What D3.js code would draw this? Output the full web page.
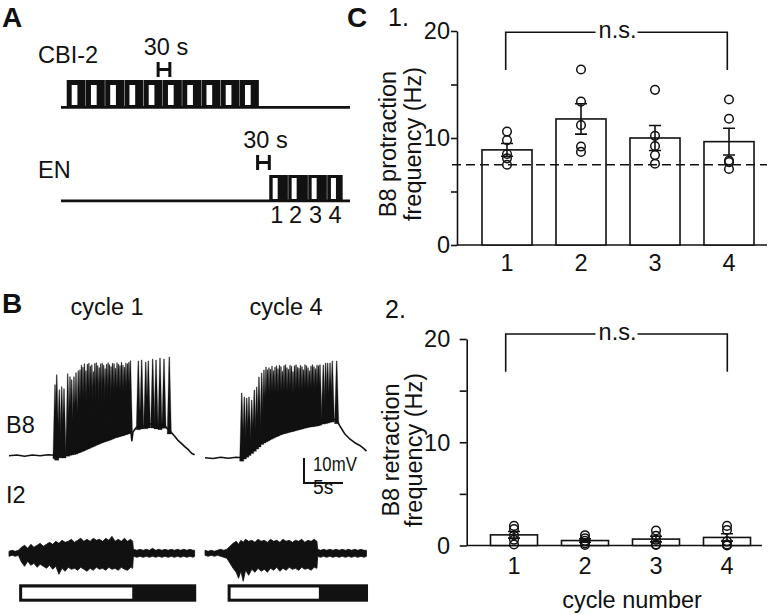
<!DOCTYPE html>
<html><head><meta charset="utf-8">
<script src="https://cdn.jsdelivr.net/npm/d3@7"></script>
<style>
html,body{margin:0;padding:0;background:#fff}
svg{display:block}
text{font-family:"Liberation Sans",Arial,Helvetica,sans-serif;fill:#111}
</style>
</head><body>
<svg id="fig" width="770" height="615"></svg>
<script>
// ---------------- DATA ----------------
// Panel C
const cycles = ["1", "2", "3", "4"];
const protMean = [8.89, 11.78, 10.0, 9.66];
const protSem = [0.6, 1.42, 1.17, 1.25];
const protPoints = [[10.6, 9.8, 8.5, 8.1, 7.5], [16.4, 13.4, 11.2, 9.2, 8.7], [14.5, 10.2, 9.25, 8.4, 7.6], [13.6, 11.8, 7.9, 7.75, 7.1]];
const protBaseline = 7.5;
const retMean = [1.03, 0.48, 0.62, 0.78];
const retSem = [0.32, 0.16, 0.27, 0.36];
const retPoints = [[1.9, 1.6, 1.0, 0.55, 0.1], [1.0, 0.7, 0.45, 0.2, 0.05], [1.45, 0.95, 0.55, 0.1, 0.05], [1.9, 1.5, 0.4, 0.1, 0.0]];
const yTickValues = [0, 5, 10, 15, 20];
const yTickLabels = [0, 10, 20];
const sigLabel = "n.s.";

// Panel A: cycles [start, protraction start, protraction end, end] in s
const cbiCycles = [[14.6, 27.4, 42.0, 62.9], [63.9, 76.7, 91.3, 112.2], [113.2, 126.0, 140.6, 161.5], [162.5, 175.3, 189.9, 210.8], [211.8, 224.6, 239.2, 260.1], [261.1, 273.9, 288.5, 309.4], [310.4, 323.2, 337.8, 358.7], [359.7, 372.5, 387.1, 408.0], [409.0, 421.8, 436.4, 457.3], [458.3, 471.1, 485.7, 506.6]];
const enCycles = [[533.2, 542.0, 554.8, 580.9], [581.9, 590.6, 603.4, 632.1], [633.1, 641.8, 654.6, 680.7], [681.7, 691.2, 704.0, 721.2]];
const enCycleLabels = ["1", "2", "3", "4"];
const timelineDur = 740;
const cbiScaleBarStart = 248.7, enScaleBarStart = 503.4, scaleBarSec = 30;

// Panel B: B8 membrane potential (t s, mV rel. rest)
const b8Env1 = [[0, 0], [1, 0.3], [2, -0.2], [3, 0.3], [4, 0], [5, 0.4], [5.9, 0.2], [6.2, -0.6], [6.5, 0.8], [7.0, 0.4], [7.8, 1.6], [8.5, 2.0], [9.1, 2.8], [10.4, 4.6], [11.7, 6.4], [12.8, 7.6], [13.6, 8.6], [14.5, 9.4], [15.3, 10.2], [15.6, 10.6], [15.75, 6.0], [15.9, 9.6], [16.3, 11.2], [16.8, 12.2], [17.4, 12.0], [18.1, 12.8], [18.7, 12.2], [19.4, 11.8], [19.9, 12.4], [20.3, 10.8], [20.9, 9.0], [21.3, 7.6], [21.7, 6.0], [22.2, 4.6], [22.6, 3.4], [23.0, 2.4], [23.4, 1.0], [23.8, 0.4]];
const b8Spikes1T = [5.90, 6.12, 6.45, 6.76, 7.05, 7.53, 7.82, 8.04, 8.33, 8.59, 8.88, 9.10,
  9.29, 9.48, 9.67, 9.86, 10.05, 10.24, 10.43, 10.62, 10.81, 11.00, 11.19, 11.38, 11.57, 11.76, 11.95, 12.14, 12.33, 12.52, 12.71, 12.90, 13.09, 13.28, 13.47, 13.66, 13.85, 14.04, 14.23, 14.42, 14.61, 14.80, 14.99, 15.18, 15.37, 15.56,
  16.58, 17.01, 17.53, 17.86, 18.42, 18.85, 19.36, 19.87, 20.55];
const b8Spikes1V = [28.4, 32.4, 26.4, 27.6, 26.8, 32.8, 31.6, 30.4, 31.6, 33.2, 34.0, 34.4,
  36.2, 35.4, 36.8, 34.0, 36.6, 37.0, 35.8, 36.4, 33.6, 36.9, 37.2, 36.0, 35.2, 36.8, 37.0, 36.2, 34.8, 36.6, 37.2, 36.4, 35.6, 37.0, 36.8, 35.0, 37.2, 36.6, 36.0, 37.4, 36.2, 35.4, 37.0, 36.8, 37.4, 38.0,
  37.9, 38.3, 37.5, 37.9, 38.7, 38.3, 39.1, 38.7, 39.5];
const b8Env2 = [[0, 0], [1, -0.3], [2, 0.2], [3, -0.2], [4, 0.2], [4.7, 0], [5.1, 1.0], [5.8, 2.6], [6.4, 4.2], [7.3, 6.8], [8.5, 9.0], [9.8, 10.8], [11.5, 12.2], [13.2, 13.6], [14.5, 14.2], [15.1, 14.8], [15.7, 15.2], [16.2, 15.8], [16.9, 15.0], [17.3, 12.6], [17.9, 9.6], [18.6, 7.4], [19.2, 6.0], [19.8, 5.0], [20.3, 3.8], [20.7, 2.6]];
const b8Spikes2T = [4.71, 5.04, 5.35, 5.64, 5.99, 6.32, 6.63, 6.92, 7.27, 7.56, 7.82,
  8.01, 8.20, 8.40, 8.59, 8.78, 8.97, 9.17, 9.36, 9.55, 9.74, 9.94, 10.13, 10.32, 10.51, 10.71, 10.90, 11.09, 11.28, 11.47, 11.67, 11.86, 12.05, 12.24, 12.44, 12.63, 12.82, 13.01, 13.21, 13.40, 13.59, 13.78, 13.97, 14.17, 14.36, 14.55, 14.74,
  15.17, 15.47, 15.73, 16.03, 16.32, 16.88];
const b8Spikes2V = [25.9, 24.3, 23.9, 24.3, 23.1, 27.1, 28.3, 32.3, 33.9, 35.1, 36.3,
  35.2, 36.0, 35.4, 36.6, 34.8, 36.2, 36.8, 35.6, 37.0, 36.4, 34.6, 36.8, 37.2, 36.0, 35.4, 37.0, 36.6, 34.4, 36.8, 37.2, 36.2, 35.8, 37.0, 36.4, 35.2, 37.2, 36.8, 36.0, 34.8, 36.6, 37.2, 36.4, 35.6, 37.0, 36.8, 37.2,
  37.1, 37.9, 37.9, 37.9, 38.7, 38.7];
// I2 EMG envelope [t s, upper amplitude, lower amplitude] (a.u.)
const emg1 = [[0, 2, 3], [0.4, 3, 2], [0.8, 2, 3], [1.2, 3, 2], [1.6, 6, 9], [2.0, 8, 13], [2.4, 5, 8], [2.8, 9, 12], [3.2, 6, 10], [3.6, 8, 14], [4.0, 10, 11], [4.4, 7, 13], [4.8, 9, 15], [5.2, 11, 12], [5.6, 9, 16], [6.0, 12, 13], [6.4, 10, 21], [6.8, 13, 15], [7.2, 11, 18], [7.6, 12, 14], [8.0, 14, 16], [8.4, 11, 15], [8.8, 13, 17], [9.2, 15, 14], [9.6, 12, 16], [10.0, 14, 18], [10.4, 12, 15], [10.8, 15, 17], [11.2, 13, 14], [11.6, 14, 16], [12.0, 12, 15], [12.4, 15, 17], [12.8, 13, 14], [13.2, 17, 16], [13.6, 12, 15], [14.0, 14, 17], [14.4, 12, 14], [14.8, 15, 16], [15.2, 12, 17], [15.6, 14, 14], [15.85, 12, 15], [15.95, 4, 3], [16.4, 3, 4], [16.8, 4, 3], [17.2, 3, 4], [17.6, 4, 3], [18.0, 3, 4], [18.4, 5, 3], [18.8, 3, 4], [19.2, 4, 3], [19.6, 3, 4], [20.0, 4, 3], [20.4, 3, 4], [20.8, 4, 3], [21.2, 3, 4], [21.6, 4, 3], [22.0, 3, 4], [22.4, 4, 3], [22.8, 3, 4], [23.2, 4, 3], [23.6, 3, 4], [23.8, 3, 3]];
const emg2 = [[0, 3, 2], [0.4, 2, 3], [0.8, 3, 2], [1.2, 2, 3], [1.6, 3, 2], [2.0, 4, 3], [2.4, 3, 4], [2.8, 4, 5], [3.2, 7, 10], [3.6, 10, 15], [4.0, 12, 19], [4.3, 9, 25], [4.6, 13, 18], [4.9, 11, 28], [5.2, 14, 17], [5.6, 12, 22], [6.0, 13, 16], [6.4, 11, 19], [6.8, 14, 15], [7.2, 12, 18], [7.6, 13, 16], [8.0, 11, 19], [8.4, 14, 15], [8.8, 12, 17], [9.2, 13, 14], [9.6, 11, 18], [10.0, 14, 15], [10.4, 12, 17], [10.8, 13, 14], [11.2, 11, 16], [11.6, 13, 15], [12.0, 12, 17], [12.4, 14, 14], [12.8, 11, 16], [13.2, 13, 15], [13.6, 12, 17], [14.0, 14, 14], [14.35, 12, 15], [14.45, 4, 3], [14.8, 3, 4], [15.2, 4, 3], [15.6, 3, 4], [16.0, 4, 3], [16.4, 3, 4], [16.8, 4, 3], [17.2, 3, 4], [17.6, 4, 3], [18.0, 3, 4], [18.4, 4, 3], [18.8, 3, 4], [19.2, 4, 3], [19.6, 3, 4], [20.0, 4, 3], [20.4, 3, 4], [20.7, 3, 3]];
// phase bars [start, protraction->retraction switch, end] (s)
const phase1 = [1.3, 15.8, 24.0];
const phase2 = [2.9, 14.6, 20.9];
const scaleBarT = 5, scaleBarMV = 10;

// ---------------- DRAWING ----------------
const FS = 23.5, INK = "#111";
const svg = d3.select("#fig");

function txt(g, x, y, s, o = {}) {
  return g.append("text")
    .attr("transform", `translate(${x},${y}) rotate(${o.rot || 0}) scale(${o.sx || 1},1)`)
    .attr("text-anchor", o.anchor || "start")
    .attr("font-size", o.size || FS)
    .attr("font-weight", o.bold ? "bold" : "normal")
    .text(s);
}

// ---- Panel letters ----
txt(svg, 2, 27, "A", {size: 28, bold: true});
txt(svg, 2, 313, "B", {size: 28, bold: true});
txt(svg, 347, 27, "C", {size: 28, bold: true});

// ---- Panel A ----
(function () {
  const g = svg.append("g");
  const xA = d3.scaleLinear().domain([0, timelineDur]).range([61, 350]);
  function row(cyc, lineY, top, slotTop, slotBot, sbStart, sbTop) {
    g.append("line").attr("x1", xA(0)).attr("x2", xA(timelineDur)).attr("y1", lineY).attr("y2", lineY)
      .attr("stroke", INK).attr("stroke-width", 2.8);
    cyc.forEach(c => {
      g.append("rect").attr("x", xA(c[0])).attr("width", xA(c[3]) - xA(c[0]))
        .attr("y", top).attr("height", lineY - top).attr("fill", INK);
      g.append("rect").attr("x", xA(c[1])).attr("width", xA(c[2]) - xA(c[1]))
        .attr("y", slotTop).attr("height", slotBot - slotTop).attr("fill", "#fff");
    });
    const x0 = xA(sbStart), x1 = xA(sbStart + scaleBarSec);
    g.append("path").attr("d", `M${x0},${sbTop}V${sbTop + 15}M${x1},${sbTop}V${sbTop + 15}M${x0},${sbTop + 7.5}H${x1}`)
      .attr("stroke", INK).attr("stroke-width", 3).attr("fill", "none");
    txt(g, (x0 + x1) / 2 + 2, sbTop - 7, "30 s", {anchor: "middle"});
  }
  row(cbiCycles, 107.3, 80, 85, 105, cbiScaleBarStart, 62);
  row(enCycles, 200.8, 175, 178, 199, enScaleBarStart, 155);
  txt(g, 38, 63, "CBI-2");
  txt(g, 38, 178, "EN");
  enCycles.forEach((c, i) => txt(g, xA((c[1] + c[2]) / 2) + 1.5, 223, enCycleLabels[i], {anchor: "middle"}));
})();

// ---- Panel B ----
(function () {
  const g = svg.append("g");
  txt(g, 107, 315, "cycle 1", {anchor: "middle"});
  txt(g, 286, 315, "cycle 4", {anchor: "middle"});
  txt(g, 6, 433, "B8");
  txt(g, 6, 503, "I2");

  const pxPerSec = 7.8, pxPerMV = 2.5;
  function trace(x0, rest, env, spT, spV, emg, phase) {
    const x = d3.scaleLinear().domain([0, 10]).range([x0, x0 + 10 * pxPerSec]);
    const y = d3.scaleLinear().domain([0, 10]).range([rest, rest - 10 * pxPerMV]);
    const bis = d3.bisector(d => d[0]).left;
    const envAt = t => {
      const i = Math.max(1, Math.min(env.length - 1, bis(env, t)));
      const a = env[i - 1], b = env[i];
      return a[1] + (b[1] - a[1]) * (t - a[0]) / (b[0] - a[0]);
    };
    spT.forEach((t, i) => {
      const xb = x(t), yb = y(envAt(t) - 1.4), yp = y(spV[i]);
      g.append("path").attr("d", `M${xb - 2.1},${yb}L${xb - 0.35},${yp}L${xb + 0.35},${yp}L${xb + 2.1},${yb}Z`)
        .attr("fill", INK).attr("stroke", INK).attr("stroke-width", 0.3);
    });
    g.append("path").datum(env)
      .attr("d", d3.line().x(d => x(d[0])).y(d => y(d[1])))
      .attr("fill", "none").attr("stroke", INK).attr("stroke-width", 1.6).attr("stroke-linejoin", "round");
    const ye = d3.scaleLinear().domain([-20, 20]).range([573.3, 533.3]);
    g.append("path").datum(emg)
      .attr("d", d3.area().x(d => x(d[0])).y0(d => ye(-d[2])).y1(d => ye(d[1])))
      .attr("fill", INK).attr("stroke", INK).attr("stroke-width", 0.8);
    g.append("rect").attr("x", x(phase[0])).attr("width", x(phase[2]) - x(phase[0]))
      .attr("y", 584.3).attr("height", 17.4).attr("fill", INK);
    g.append("rect").attr("x", x(phase[0]) + 3).attr("width", x(phase[1]) - x(phase[0]) - 3)
      .attr("y", 587.5).attr("height", 11.2).attr("fill", "#fff");
    return {x, y};
  }
  trace(9, 455.7, b8Env1, b8Spikes1T, b8Spikes1V, emg1, phase1);
  const s2 = trace(205, 457.7, b8Env2, b8Spikes2T, b8Spikes2V, emg2, phase2);
  const t0 = 12.69, v0 = -0.1;
  g.append("path").attr("d", `M${s2.x(t0)},${s2.y(v0)}V${s2.y(v0 - scaleBarMV)}H${s2.x(t0 + scaleBarT)}`)
    .attr("fill", "none").attr("stroke", INK).attr("stroke-width", 2);
  txt(g, 313, 471, "10mV", {size: 21, sx: 0.8});
  txt(g, 313, 494, "5s", {size: 21, sx: 0.92});
})();

// ---- Panel C ----
function barChart(o) {
  const g = svg.append("g");
  const y = d3.scaleLinear().domain([0, 20]).range([o.y0, o.y20]);
  const x = d3.scaleBand().domain(cycles).range(o.xr).paddingInner(o.pad).paddingOuter(o.pad / 2);
  const bw = x.bandwidth();
  const ax = g.append("g").attr("transform", `translate(${o.axisX},0)`)
    .call(d3.axisLeft(y).tickValues(yTickValues).tickSize(o.tick).tickSizeOuter(0).tickFormat(""));
  ax.selectAll("path,line").attr("stroke", INK).attr("stroke-width", 1.6);
  yTickLabels.forEach(v => txt(g, o.axisX - o.labGap, y(v) + 8.3, String(v), {anchor: "end"}));
  g.append("line").attr("x1", o.axisX).attr("x2", o.xEnd).attr("y1", y(0)).attr("y2", y(0))
    .attr("stroke", INK).attr("stroke-width", 1.6);
  cycles.forEach((c, i) => {
    g.append("rect").attr("x", x(c)).attr("y", y(o.mean[i])).attr("width", bw).attr("height", y(0) - y(o.mean[i]))
      .attr("fill", "#fff").attr("stroke", INK).attr("stroke-width", 1.6);
  });
  if (o.baseline !== undefined) {
    g.append("line").attr("x1", o.axisX - 5).attr("x2", o.xEnd).attr("y1", y(o.baseline)).attr("y2", y(o.baseline))
      .attr("stroke", INK).attr("stroke-width", 1.6).attr("stroke-dasharray", "9,5");
  }
  cycles.forEach((c, i) => {
    const cx = x(c) + bw / 2, m = o.mean[i], s = o.sem[i];
    g.append("path").attr("d", `M${cx},${y(m - s)}V${y(m + s)}M${cx - 6},${y(m + s)}H${cx + 6}M${cx - 6},${y(m - s)}H${cx + 6}`)
      .attr("stroke", INK).attr("stroke-width", 1.6).attr("fill", "none");
    o.points[i].forEach(v => g.append("circle").attr("cx", cx).attr("cy", y(v)).attr("r", 4.3)
      .attr("fill", "none").attr("stroke", INK).attr("stroke-width", 1.5));
    txt(g, cx, y(0) + o.xLabOff, c, {anchor: "middle"});
  });
  const bx1 = o.br[0], bx2 = o.br[1], by = y(o.brTop), byl = y(o.brLeg), mid = (bx1 + bx2) / 2;
  g.append("path").attr("d", `M${bx1},${byl}V${by}H${mid - 21}M${mid + 21},${by}H${bx2}V${byl}`)
    .attr("fill", "none").attr("stroke", INK).attr("stroke-width", 1.6);
  txt(g, mid + 1, by + 5.5, sigLabel, {anchor: "middle"});
  txt(g, o.labX[0], o.labY, o.ylab[0], {anchor: "middle", rot: -90});
  txt(g, o.labX[1], o.labY, o.ylab[1], {anchor: "middle", rot: -90});
  txt(g, o.num[0], o.num[1], o.num[2], {size: 25});
  return {x, y};
}
barChart({y0: 245, y20: 31, xr: [470, 766], pad: 0.324, axisX: 457, xEnd: 767, tick: 6, labGap: 7,
  mean: protMean, sem: protSem, points: protPoints, baseline: protBaseline, xLabOff: 26,
  br: [505.7, 727.3], brTop: 19.88, brLeg: 16.36,
  labX: [396, 421], labY: 144, ylab: ["B8 protraction", "frequency (Hz)"], num: [388, 26, "1."]});
barChart({y0: 545.5, y20: 339, xr: [478.5, 762.5], pad: 0.338, axisX: 466.7, xEnd: 762, tick: 7, labGap: 16.5,
  mean: retMean, sem: retSem, points: retPoints, xLabOff: 28,
  br: [505.7, 727.3], brTop: 20.48, brLeg: 16.83,
  labX: [399, 422], labY: 450, ylab: ["B8 retraction", "frequency (Hz)"], num: [385, 318, "2."]});
txt(svg, 632, 608, "cycle number", {anchor: "middle"});
</script>
</body></html>
